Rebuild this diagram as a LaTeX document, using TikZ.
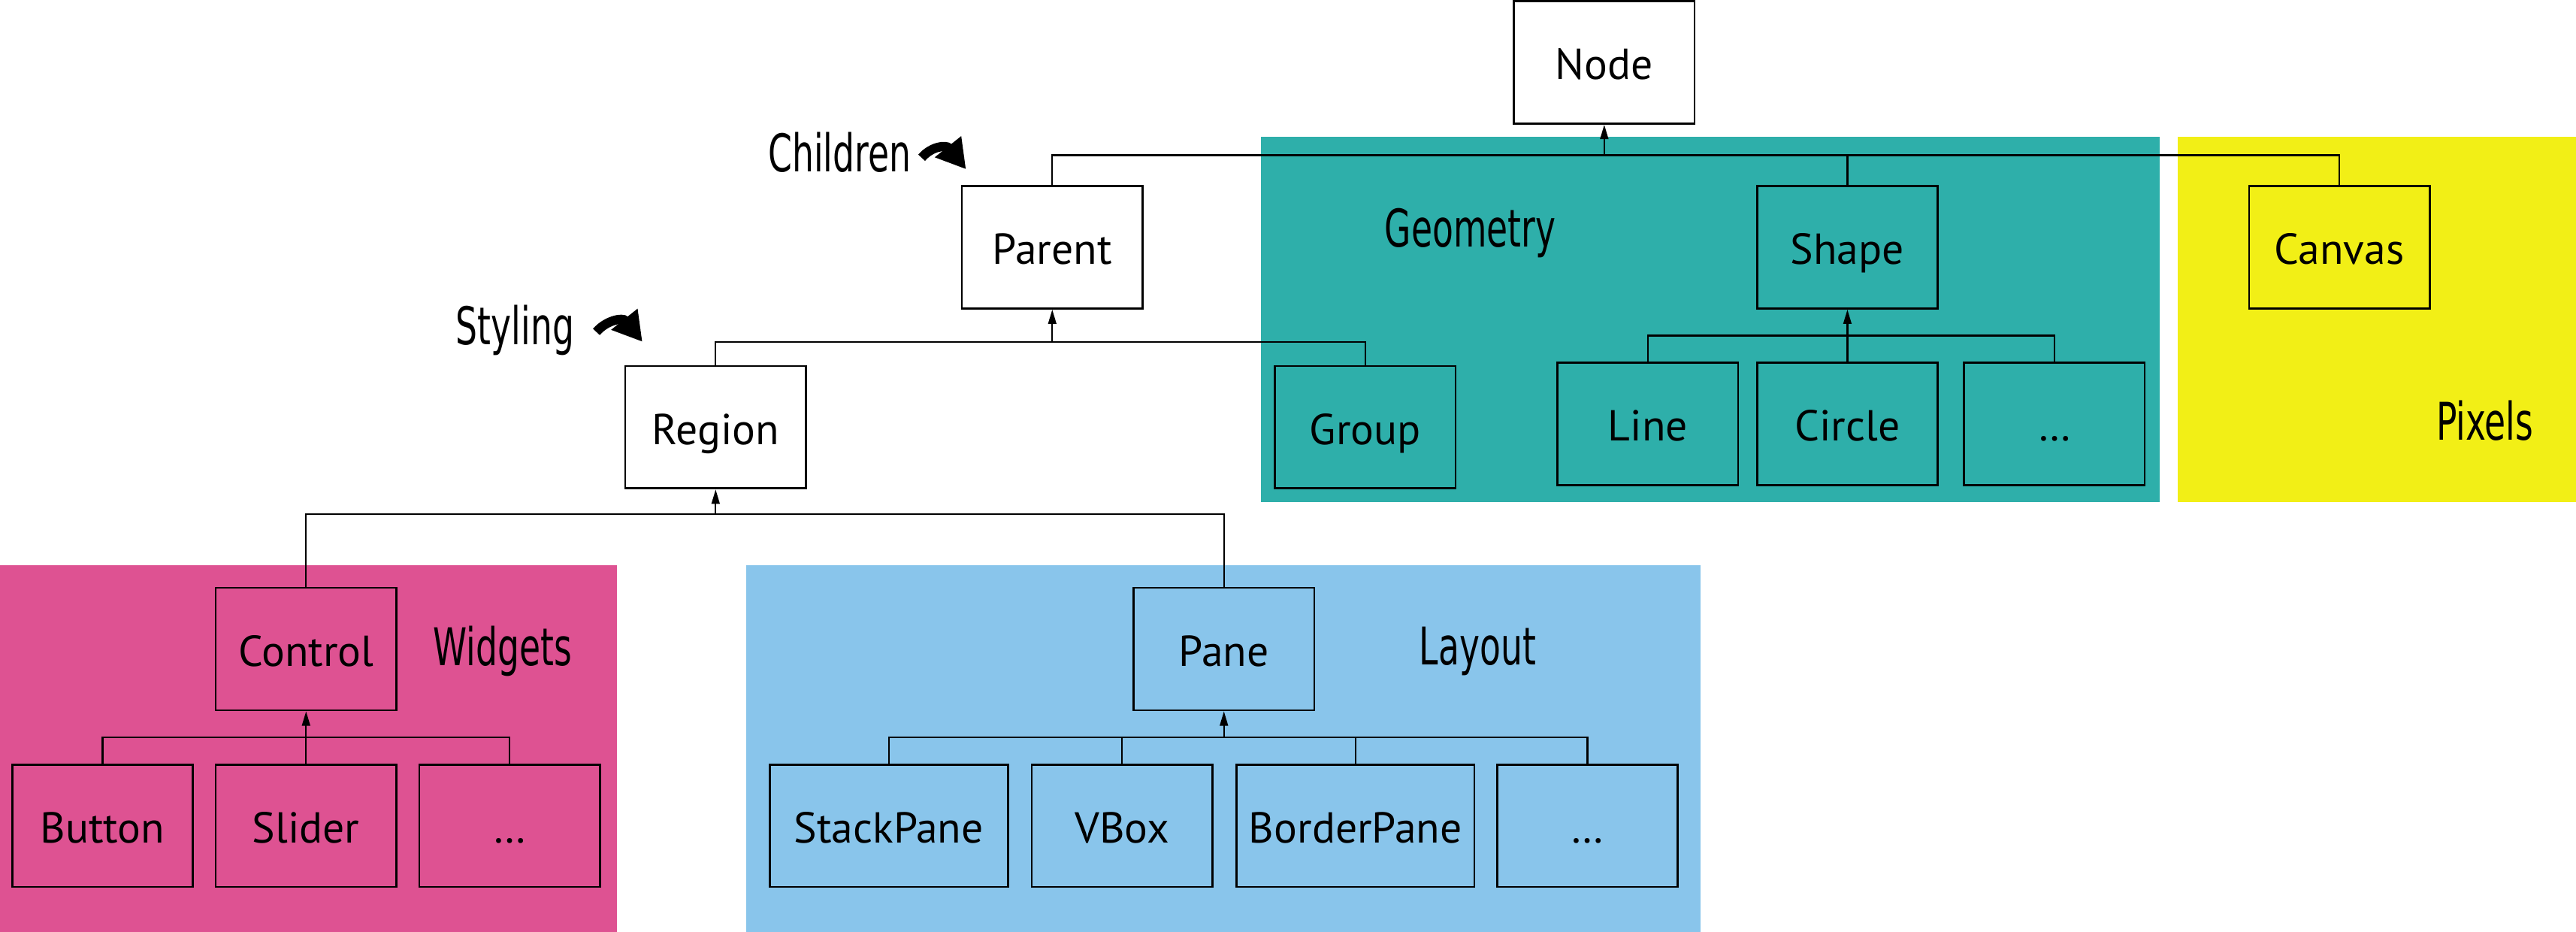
\documentclass[tikz,border=0pt]{standalone}
\usepackage{fontspec}
\setmainfont{PT Sans}
\newfontfamily\handfont{DejaVu Sans}[FakeStretch=0.66]
\usepackage{xcolor}
\usepackage{tikz}
\usetikzlibrary{arrows.meta}
\definecolor{geomteal}{RGB}{46,175,170}
\definecolor{pixyellow}{RGB}{242,239,22}
\definecolor{widgpink}{RGB}{222,82,146}
\definecolor{laysky}{RGB}{137,197,235}

\begin{document}
\begin{tikzpicture}[x=0.02cm,y=-0.02cm,
  every node/.style={font=\fontsize{15}{18}\selectfont},
  bx/.style={draw,line width=0.7pt,minimum width=2.2cm,minimum height=1.49cm,
    inner sep=0pt,text height=11.8pt,text depth=0pt},
  wbx/.style={bx,minimum width=2.9cm},
  hand/.style={font=\handfont\fontsize{18}{20}\selectfont,anchor=base,inner sep=0pt},
  link/.style={line width=0.6pt},
  arr/.style={link,-{Triangle[length=5pt,width=2.8pt]}},
  harr/.style={line width=3.2pt,-{Triangle[length=10pt,width=11pt]}}]
 \useasboundingbox (0,0) rectangle (1568,567);
 % colour groups
 \fill[geomteal]  (767.5,83.2) rectangle (1314.8,305.5);
 \fill[pixyellow] (1325.7,83.2) rectangle (1568,305.5);
 \fill[widgpink]  (0,343.8) rectangle (375.7,567);
 \fill[laysky]    (454.4,343.8) rectangle (1035,567);
 % classes
 \node[bx] (node)    at (976.5,38)    {Node};
 \node[bx] (parent)  at (640.5,150.5) {Parent};
 \node[bx] (shape)   at (1124.5,150.5) {Shape};
 \node[bx] (canvas)  at (1424,150.5)  {Canvas};
 \node[bx] (region)  at (435.6,260)   {Region};
 \node[bx] (group)   at (831,260)     {Group};
 \node[bx] (line)    at (1003,258)    {Line};
 \node[bx] (circle)  at (1124.5,258)  {Circle};
 \node[bx] (shmore)  at (1250.5,258)  {\dots};
 \node[bx] (control) at (186.3,395)   {Control};
 \node[bx] (pane)    at (745,395)     {Pane};
 \node[bx] (button)  at (62.4,502.5)  {Button};
 \node[bx] (slider)  at (186.2,502.5) {Slider};
 \node[bx] (ctmore)  at (310.2,502.5) {\dots};
 \node[wbx] (stack)  at (541,502.5)   {StackPane};
 \node[bx] (vbox)    at (683,502.5)   {VBox};
 \node[wbx] (border) at (825,502.5)   {BorderPane};
 \node[bx] (pnmore)  at (966.3,502.5) {\dots};
 % bus points
 \coordinate (nbus) at (976.5,94.5);
 \coordinate (pbus) at (640.5,208);
 \coordinate (sbus) at (1124.5,204.3);
 \coordinate (rbus) at (435.6,313);
 \coordinate (cbus) at (186.3,448.6);
 \coordinate (qbus) at (745,448.6);
 \foreach \c/\b in {parent/nbus,shape/nbus,canvas/nbus,region/pbus,group/pbus,
   line/sbus,circle/sbus,shmore/sbus,control/rbus,pane/rbus,
   button/cbus,slider/cbus,ctmore/cbus,stack/qbus,vbox/qbus,border/qbus,pnmore/qbus}
   \draw[link] (\c.north) |- (\b);
 \foreach \b/\p in {nbus/node,pbus/parent,sbus/shape,rbus/region,cbus/control,qbus/pane}
   \draw[arr] (\b) -- (\p.south);
 % notes
 \node[hand] (children) at (511,104.4) {Children};
 \node[hand] (styling)  at (313.5,209.6) {Styling};
 \node[hand] (geometry) at (895,150.2) {Geometry};
 \node[hand] (pixels)   at (1512.5,267.6) {Pixels};
 \node[hand] (widgets)  at (306,405) {Widgets};
 \node[hand] (layout)   at (899.5,404.8) {Layout};
 \coordinate (chA) at (561,96);
 \coordinate (chB) at (588,103);
 \coordinate (stA) at (363,202);
 \coordinate (stB) at (391,208);
 \draw[harr] (chA) .. controls (567,89) and (576,88) .. (chB);
 \draw[harr] (stA) .. controls (369,195) and (379,193) .. (stB);
\end{tikzpicture}
\end{document}
